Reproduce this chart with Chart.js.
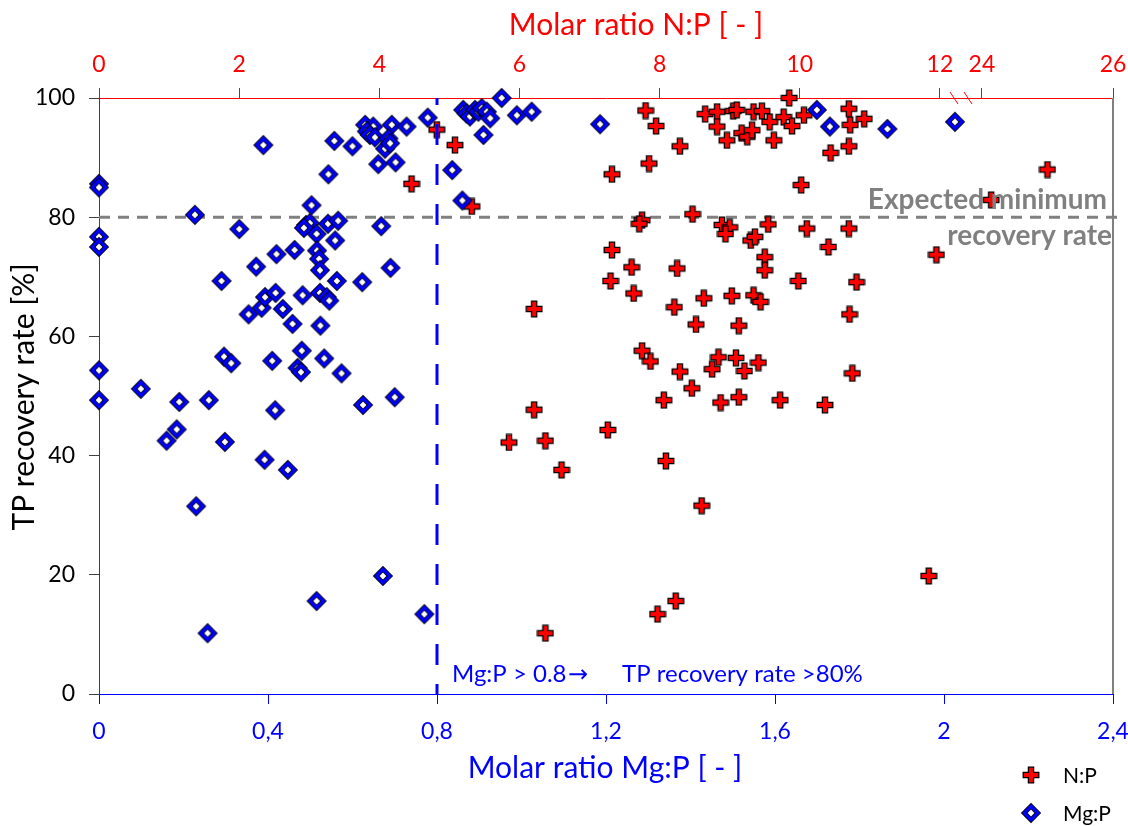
<!DOCTYPE html>
<html><head><meta charset="utf-8">
<script src="https://cdn.jsdelivr.net/npm/chart.js@4.4.1/dist/chart.umd.min.js"></script>
<style>html,body{margin:0;padding:0;background:#fff}#wrap{width:1128px;height:826px;position:relative}</style>
</head><body><div id="wrap"><canvas id="c"></canvas></div>
<script>
// ---------- data ----------
const npRatio = [4.82,5.08,4.46,5.32,7.80,7.95,8.29,7.85,7.32,8.65,8.82,9.05,9.10,8.82,8.96,9.17,9.25,9.32,9.34,9.46,
  9.57,9.63,9.77,9.89,9.85,10.06,10.02,10.70,10.72,10.92,10.70,10.44,8.47,25.0,24.14,11.95,7.75,7.71,8.89,9.00,
  8.94,9.30,9.36,9.55,10.10,10.70,10.41,7.32,7.60,8.25,9.50,9.50,7.30,9.98,10.81,7.63,8.63,9.03,9.34,9.44,
  8.21,10.71,8.52,9.13,7.75,7.87,8.84,9.09,9.21,9.41,8.75,8.29,10.75,8.46,8.06,8.87,9.13,9.72,10.36,7.26,
  8.09,6.60,8.60,11.84,8.23,7.97,6.21,6.21,5.85,6.37,6.37];
const npRecovery = [94.7,92.1,85.6,81.8,97.9,95.3,91.9,89.0,87.2,97.3,97.7,97.8,98.0,95.2,92.9,94.1,93.5,94.6,97.7,97.8,
  96.0,92.9,96.8,95.3,100.0,97.1,85.4,98.2,95.5,96.5,91.9,90.8,80.5,88.0,82.9,73.7,79.5,78.9,78.7,78.3,
  77.2,76.1,76.7,78.8,78.1,78.1,75.0,74.5,71.6,71.4,73.3,71.1,69.3,69.3,69.1,67.2,66.4,66.8,66.9,65.8,
  64.9,63.7,62.0,61.8,57.6,55.8,56.5,56.4,54.2,55.6,54.5,54.1,53.8,51.3,49.3,48.9,49.8,49.3,48.5,44.3,
  39.1,37.6,31.6,19.8,15.6,13.4,64.6,47.7,42.2,42.5,10.2];
const mgpRatio = [0,0,0,0,0,0,0.099,0.19,0.26,0.296,0.313,0.354,0.385,0.393,0.418,0.435,0.458,0.524,0.41,0.48,
  0.47,0.478,0.533,0.574,0.625,0.70,0.417,0.16,0.184,0.298,0.392,0.447,0.23,0.672,0.515,0.257,0.77,0.227,0.332,0.503,
  0.49,0.499,0.485,0.515,0.542,0.566,0.668,0.559,0.42,0.463,0.516,0.521,0.523,0.372,0.29,0.563,0.623,0.69,0.482,0.523,
  0.539,0.545,0.389,0.557,0.60,0.543,0.63,0.649,0.634,0.641,0.653,0.693,0.728,0.685,0.677,0.689,0.661,0.702,0.778,0.836,
  0.86,0.862,0.87,0.878,0.89,0.898,0.906,0.918,0.926,0.91,0.953,0.989,1.024,1.186,1.699,1.73,1.866,2.026];
const mgpRecovery = [85.6,85.0,76.7,75.0,54.3,49.3,51.2,49.0,49.3,56.6,55.5,63.7,64.8,66.6,67.3,64.6,62.1,61.8,55.9,57.6,
  54.7,54.0,56.3,53.8,48.5,49.8,47.6,42.5,44.4,42.3,39.3,37.6,31.5,19.8,15.6,10.2,13.4,80.4,78.0,82.0,
  78.7,79.0,78.2,77.2,78.9,79.4,78.5,76.1,73.8,74.5,74.4,73.0,71.1,71.7,69.3,69.3,69.1,71.5,66.9,67.3,
  66.6,66.0,92.1,92.8,91.9,87.2,95.5,95.2,94.4,93.8,93.4,95.5,95.2,93.2,91.5,92.4,88.9,89.2,96.7,87.9,
  82.8,98.0,97.4,96.9,98.0,97.7,98.3,97.7,96.6,93.8,100.0,97.1,97.7,95.6,98.0,95.2,94.8,96.0];
const npTicks = [0,2,4,6,8,10,12,24,26];
const mgpTicks = [0,0.4,0.8,1.2,1.6,2,2.4];
const recoveryTicks = [0,20,40,60,80,100];
const expectedMinimum = 80;
const mgpThreshold = 0.8;
const seriesLabels = ['N:P','Mg:P'];

// ---------- styles ----------
const FONT = "Lato, 'Open Sans', sans-serif";
const RED = '#FF0000', BLUE = '#0000FF', GREY = '#808080';

function makePlus(){
  const c = document.createElement('canvas'); c.width = 18; c.height = 18;
  const g = c.getContext('2d'); const m = 9, a = 2.6, L = 7.8;
  g.beginPath();
  g.moveTo(m-a,m-L); g.lineTo(m+a,m-L); g.lineTo(m+a,m-a); g.lineTo(m+L,m-a); g.lineTo(m+L,m+a);
  g.lineTo(m+a,m+a); g.lineTo(m+a,m+L); g.lineTo(m-a,m+L); g.lineTo(m-a,m+a); g.lineTo(m-L,m+a);
  g.lineTo(m-L,m-a); g.lineTo(m-a,m-a); g.closePath();
  g.fillStyle = RED; g.fill(); g.lineWidth = 1.3; g.strokeStyle = '#000'; g.stroke();
  return c;
}
function makeDiamond(){
  const c = document.createElement('canvas'); c.width = 22; c.height = 22;
  const g = c.getContext('2d'); const m = 11;
  const d = (r, col) => { g.beginPath(); g.moveTo(m, m-r); g.lineTo(m+r, m); g.lineTo(m, m+r); g.lineTo(m-r, m); g.closePath(); g.fillStyle = col; g.fill(); };
  d(10.2,'#000'); d(8.9,BLUE); d(4.6,'#000'); d(3.4,'#fff');
  return c;
}
const plusImg = makePlus(), diamondImg = makeDiamond();

// ---------- broken N:P scale (axis break between 12 and 24) ----------
function npToDisplay(v){ if (v <= 12) return v; if (v < 24) return 12 + (v - 12) * 0.05; return 12.6 + (v - 24) * 0.935; }
function displayToNp(d){ if (d <= 12) return d; if (d < 12.6) return 12 + (d - 12) / 0.05; return 24 + (d - 12.6) / 0.935; }
const NP_DISPLAY_MAX = npToDisplay(26);
class BrokenLinearScale extends Chart.LinearScale {
  static id = 'brokenLinear';
  static defaults = {};
  buildTicks(){ return npTicks.map(v => ({value: v})); }
  getPixelForValue(v){ return (v === null || v === undefined) ? NaN : this.getPixelForDecimal(npToDisplay(v) / NP_DISPLAY_MAX); }
  getValueForPixel(p){ return displayToNp(this.getDecimalForPixel(p) * NP_DISPLAY_MAX); }
}
Chart.register(BrokenLinearScale);

const annot = {
  id: 'annot',
  beforeDatasetsDraw(chart){
    const {ctx, chartArea: a, scales: {y}} = chart;
    const yy = y.getPixelForValue(expectedMinimum);
    ctx.save();
    ctx.strokeStyle = GREY; ctx.lineWidth = 3; ctx.setLineDash([11, 8]);
    ctx.beginPath(); ctx.moveTo(a.left, yy); ctx.lineTo(a.right + 7, yy); ctx.stroke();
    ctx.restore();
  },
  afterDatasetsDraw(chart){
    const {ctx, chartArea: a, scales: {x}} = chart;
    ctx.save();
    // threshold line
    const xx = x.getPixelForValue(mgpThreshold);
    ctx.strokeStyle = BLUE; ctx.lineWidth = 3; ctx.setLineDash([21, 19]); ctx.lineDashOffset = 14;
    ctx.beginPath(); ctx.moveTo(xx, a.top); ctx.lineTo(xx, a.bottom); ctx.stroke();
    ctx.setLineDash([]);
    // right frame
    ctx.strokeStyle = GREY; ctx.lineWidth = 2;
    ctx.beginPath(); ctx.moveTo(a.right, a.top); ctx.lineTo(a.right, a.bottom); ctx.stroke();
    // axis break marks
    ctx.strokeStyle = RED; ctx.lineWidth = 1;
    ctx.beginPath(); ctx.moveTo(950, 92); ctx.lineTo(958, 104); ctx.moveTo(964, 92); ctx.lineTo(972, 104); ctx.stroke();
    // texts
    ctx.textBaseline = 'alphabetic';
    ctx.fillStyle = GREY; ctx.font = 'bold 28px ' + FONT; ctx.textAlign = 'right';
    ctx.fillText('Expected minimum', 1107, 209);
    ctx.fillText('recovery rate', 1112, 245);
    ctx.fillStyle = BLUE; ctx.font = '24px ' + FONT; ctx.textAlign = 'left';
    ctx.fillText('Mg:P > 0.8', 452, 682);
    ctx.font = "24px 'DejaVu Sans', sans-serif";
    ctx.fillText('\u2192', 568, 682);
    ctx.font = '24px ' + FONT;
    ctx.fillText('TP recovery rate >80%', 622, 682);
    // axis titles
    ctx.font = '30px ' + FONT; ctx.textAlign = 'center';
    ctx.fillStyle = RED; ctx.fillText('Molar ratio N:P [ - ]', 636, 35);
    ctx.fillStyle = BLUE; ctx.fillText('Molar ratio Mg:P [ - ]', 605, 778);
    ctx.fillStyle = '#000';
    ctx.save(); ctx.translate(34, 397); ctx.rotate(-Math.PI / 2); ctx.fillText('TP recovery rate [%]', 0, 0); ctx.restore();
    // legend
    ctx.drawImage(plusImg, 1031 - 9, 775 - 9);
    ctx.drawImage(diamondImg, 1031 - 11, 813 - 11);
    ctx.font = '21px ' + FONT; ctx.textAlign = 'left'; ctx.fillStyle = '#000';
    ctx.fillText(seriesLabels[0], 1063, 783);
    ctx.fillText(seriesLabels[1], 1063, 821);
    ctx.restore();
  }
};

const fixedTicks = arr => scale => { scale.ticks = arr.map(v => ({value: v})); };

new Chart(document.getElementById('c'), {
  type: 'scatter',
  data: {
    datasets: [
      { label: seriesLabels[0], xAxisID: 'x2', yAxisID: 'y', order: 2, clip: false,
        data: npRatio.map((v, i) => ({x: v, y: npRecovery[i]})),
        pointStyle: plusImg, pointRadius: 8, pointHoverRadius: 8 },
      { label: seriesLabels[1], xAxisID: 'x', yAxisID: 'y', order: 1, clip: false,
        data: mgpRatio.map((v, i) => ({x: v, y: mgpRecovery[i]})),
        pointStyle: diamondImg, pointRadius: 9, pointHoverRadius: 9 }
    ]
  },
  options: {
    responsive: true, maintainAspectRatio: false, animation: false, devicePixelRatio: 1,
    layout: { padding: { left: 0, right: 15, top: 0, bottom: 0 } },
    plugins: { legend: { display: false }, tooltip: { enabled: false } },
    events: [],
    scales: {
      x: {
        type: 'linear', position: 'bottom', min: 0, max: 2.4,
        afterBuildTicks: fixedTicks(mgpTicks),
        afterFit: s => { s.height = 132; s.paddingLeft = 0; s.paddingRight = 0; },
        grid: { drawOnChartArea: false, drawTicks: true, tickLength: 10, color: BLUE, lineWidth: 1 },
        border: { display: true, color: BLUE, width: 1 },
        ticks: { color: BLUE, font: { family: FONT, size: 23 }, padding: 14, autoSkip: false, maxRotation: 0,
          callback: v => String(Math.round(v * 10) / 10).replace('.', ',') }
      },
      x2: {
        type: 'brokenLinear', position: 'top', min: 0, max: 26,
        afterFit: s => { s.height = 98; s.paddingLeft = 0; s.paddingRight = 0; },
        grid: { drawOnChartArea: false, drawTicks: true, tickLength: 10, color: RED, lineWidth: 1 },
        border: { display: true, color: RED, width: 1 },
        ticks: { color: RED, font: { family: FONT, size: 23 }, padding: 10, autoSkip: false, maxRotation: 0,
          callback: v => String(v) }
      },
      y: {
        type: 'linear', position: 'left', min: 0, max: 100,
        afterBuildTicks: fixedTicks(recoveryTicks),
        afterFit: s => { s.width = 99; },
        grid: { drawOnChartArea: false, drawTicks: true, tickLength: 10, color: '#404040', lineWidth: 1 },
        border: { display: true, color: '#404040', width: 1 },
        ticks: { color: '#000', font: { family: FONT, size: 23 }, padding: 14, autoSkip: false,
          callback: v => String(v) }
      }
    }
  },
  plugins: [annot]
});
</script></body></html>
